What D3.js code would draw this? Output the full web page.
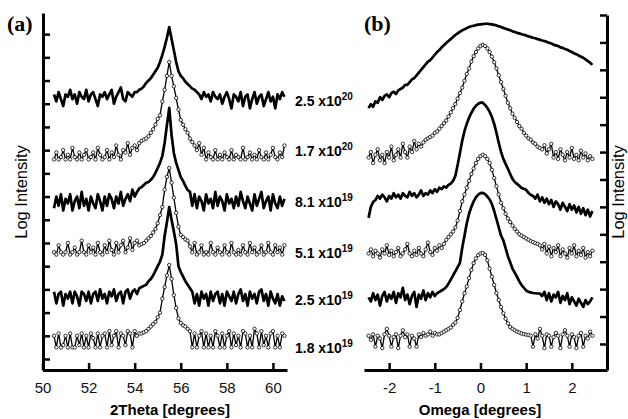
<html>
<head>
  <script src="https://d3js.org/d3.v7.min.js"></script>
  <style>
    body { margin: 0; background: #fff; }
    svg { display: block; }
  </style>
</head>
<body>
  <div id="chart"></div>
  <script>
    // 2Theta scan grid (degrees) and log intensity of each sample
    const xA = [50.5,50.6,50.7,50.8,50.9,51,51.1,51.2,51.3,51.4,51.5,51.6,51.7,51.8,51.9,52,52.1,52.2,52.3,52.4,52.5,52.6,52.7,52.8,52.9,53,53.1,53.2,53.3,53.4,53.5,53.6,53.7,53.8,53.9,54,54.1,54.2,54.3,54.4,54.5,54.6,54.7,54.8,54.9,55,55.1,55.2,55.3,55.4,55.5,55.6,55.7,55.8,55.9,56,56.1,56.2,56.3,56.4,56.5,56.6,56.7,56.8,56.9,57,57.1,57.2,57.3,57.4,57.5,57.6,57.7,57.8,57.9,58,58.1,58.2,58.3,58.4,58.5,58.6,58.7,58.8,58.9,59,59.1,59.2,59.3,59.4,59.5,59.6,59.7,59.8,59.9,60,60.1,60.2,60.3,60.4,60.5];

    const a1 = [11.4,11.1,11.5,11.2,10.9,11.4,11.3,11.6,11.2,11.4,11.0,11.5,11.3,11.2,11.6,11.1,11.4,11.5,11.2,10.9,11.4,11.3,11.5,11.2,11.4,11.6,11.0,11.3,11.5,11.7,11.2,11.1,11.5,11.4,11.3,11.5,
      11.5,11.6,11.65,11.75,11.9,12.0,12.1,12.25,12.4,12.55,12.8,13.1,13.45,13.85,14.3,13.8,13.3,12.8,12.4,12.2,12.1,11.95,11.85,11.75,11.65,11.6,
      11.5,11.4,11.2,11.5,11.3,11.4,11.1,11.5,11.3,11.2,11.4,11.0,11.3,11.5,11.2,10.8,11.4,11.3,11.1,11.5,10.9,11.3,11.4,10.8,11.2,11.5,11.0,11.3,11.4,10.9,11.2,11.5,11.1,11.3,10.8,11.4,11.2,11.5,11.3];
    const a2 = [8.6,8.9,8.6,8.7,9.0,8.6,8.8,8.6,9.1,8.7,8.6,8.9,8.6,8.8,9.0,8.6,8.7,8.9,8.6,9.1,8.8,8.6,8.7,9.0,8.6,8.9,8.7,9.2,8.8,8.6,9.0,8.9,9.3,8.8,9.1,9.2,9.0,9.3,
      9.4,9.45,9.5,9.6,9.75,9.9,10.1,10.35,10.5,11.1,11.6,12.2,12.8,12.2,11.75,11.25,10.75,10.3,10.1,9.9,9.75,9.5,9.35,9.2,
      9.0,9.3,8.8,9.1,8.6,8.9,8.7,8.6,9.0,8.6,8.8,8.6,8.9,8.7,8.6,9.0,8.6,8.8,8.7,8.6,9.1,8.6,8.7,8.9,8.6,8.8,8.6,9.0,8.7,8.6,8.9,8.6,8.8,9.1,8.7,8.6,8.9,8.7,9.2];
    const a3 = [6.5,7.0,6.6,7.1,6.4,6.9,6.7,7.1,6.4,6.8,7.0,6.5,7.2,6.6,6.9,6.4,7.0,6.7,6.5,7.1,6.8,6.4,7.0,6.6,7.1,6.9,6.5,7.0,6.7,7.2,6.6,6.9,7.1,6.8,7.3,7.0,7.2,7.35,
      7.41,7.5,7.59,7.63,7.72,7.84,8.02,8.23,8.45,8.75,9.31,10.09,10.82,9.66,8.88,8.45,8.15,7.84,7.67,7.46,7.28,7.2,
      6.6,7.1,6.5,7.0,6.8,6.4,7.1,6.7,6.9,6.5,7.2,6.6,7.0,6.8,6.4,7.1,6.7,6.9,6.5,7.0,6.6,7.2,6.8,6.5,7.0,6.7,6.4,7.1,6.6,6.9,7.2,6.5,6.8,7.0,6.4,7.1,6.7,6.5,7.0,6.6,6.9];
    const a4 = [4.6,4.5,4.9,4.6,4.5,4.6,5.0,4.5,4.6,4.8,4.5,4.6,5.1,4.6,4.5,4.9,4.6,4.8,4.5,5.0,4.6,4.5,4.9,4.6,5.1,4.7,4.5,5.0,4.6,4.9,5.1,4.6,4.8,5.2,4.7,5.0,5.1,4.9,
      4.95,5.0,5.1,5.2,5.3,5.45,5.6,5.85,6.2,6.55,7.3,7.85,8.23,7.6,6.95,6.3,5.7,5.35,5.25,5.15,5.1,4.85,
      4.6,5.0,4.5,4.6,4.9,4.5,4.6,4.5,5.0,4.6,4.5,4.8,4.6,4.5,4.9,4.6,4.5,5.0,4.6,4.5,4.7,4.5,4.9,4.6,4.5,5.0,4.6,4.8,4.5,4.6,4.9,4.5,4.6,5.0,4.6,4.5,4.9,4.6,4.8,4.5,4.9];
    const a5 = [2.9,2.4,2.8,2.9,2.3,2.8,2.6,2.9,2.4,2.9,2.7,2.3,2.9,2.8,2.5,2.9,2.4,2.8,2.9,2.5,3.0,2.6,2.8,2.4,2.9,2.7,3.0,2.5,2.8,2.9,2.4,2.9,3.0,2.6,2.9,3.0,2.8,3.05,
      3.1,3.15,3.2,3.35,3.45,3.6,3.8,4.0,4.2,4.5,5.3,5.9,6.55,6.0,5.5,4.95,4.0,3.75,3.55,3.35,3.2,3.05,
      2.9,2.4,2.8,2.3,2.9,2.6,2.8,2.3,2.9,2.5,2.8,2.9,2.4,2.8,2.3,2.9,2.7,2.5,2.9,2.4,2.8,3.0,2.5,2.8,2.3,2.9,2.6,2.8,2.4,2.9,3.0,2.5,2.8,2.3,2.9,2.6,2.4,2.8,2.3,2.7,2.5];
    const a6 = [1.0,0.5,1.1,0.5,0.6,1.0,0.5,1.1,0.5,0.5,1.0,0.6,1.1,0.5,1.0,0.5,1.1,0.9,0.5,1.1,0.5,1.0,1.1,0.5,1.2,0.6,1.0,1.2,0.5,1.1,1.0,0.6,1.2,1.1,0.5,1.2,1.0,1.1,
      1.1,1.15,1.2,1.3,1.4,1.5,1.6,1.8,2.0,2.6,3.1,3.6,4.05,3.45,2.75,2.2,1.75,1.55,1.45,1.4,1.3,1.2,
      0.5,1.1,0.5,1.0,1.2,0.5,1.1,0.5,1.0,0.5,1.2,1.0,0.5,1.1,0.5,1.0,1.2,0.5,1.1,0.6,1.0,0.5,1.2,1.1,0.5,1.0,0.5,1.3,1.1,0.5,1.2,0.6,1.0,0.5,1.1,1.2,0.5,1.0,0.5,1.1,1.0];

    // Omega scan grid (degrees) and log intensity of each sample
    const xB = [-2.45,-2.4,-2.35,-2.3,-2.25,-2.2,-2.15,-2.1,-2.05,-2,-1.95,-1.9,-1.85,-1.8,-1.75,-1.7,-1.65,-1.6,-1.55,-1.5,-1.45,-1.4,-1.35,-1.3,-1.25,-1.2,-1.15,-1.1,-1.05,-1,-0.95,-0.9,-0.85,-0.8,-0.75,-0.7,-0.65,-0.6,-0.55,-0.5,-0.45,-0.4,-0.35,-0.3,-0.25,-0.2,-0.15,-0.1,-0.05,0,0.05,0.1,0.15,0.2,0.25,0.3,0.35,0.4,0.45,0.5,0.55,0.6,0.65,0.7,0.75,0.8,0.85,0.9,0.95,1,1.05,1.1,1.15,1.2,1.25,1.3,1.35,1.4,1.45,1.5,1.55,1.6,1.65,1.7,1.75,1.8,1.85,1.9,1.95,2,2.05,2.1,2.15,2.2,2.25,2.3,2.35,2.4,2.45];

    const b1 = [8.6,8.75,8.65,8.85,8.8,9.0,8.9,9.05,9.1,9.0,9.15,9.2,9.12,9.25,9.3,9.35,9.45,9.45,9.55,9.65,9.7,9.8,9.9,10.0,10.1,10.2,10.3,10.35,10.45,10.55,
      10.65,10.72,10.82,10.9,10.98,11.05,11.12,11.2,11.27,11.33,11.39,11.44,11.48,11.52,11.56,11.59,11.61,11.63,11.65,11.66,11.67,11.68,11.68,11.67,11.66,11.64,11.62,11.59,11.56,11.53,
      11.5,11.47,11.44,11.41,11.38,11.35,11.33,11.3,11.28,11.25,11.22,11.2,11.17,11.15,11.12,11.1,11.07,11.05,11.02,10.99,10.96,10.92,10.89,10.87,10.82,10.8,10.76,10.73,10.69,10.65,
      10.6,10.57,10.52,10.48,10.44,10.38,10.32,10.26,10.18];
    const b2 = [6.8,7.0,6.6,6.9,7.1,6.7,6.9,6.6,7.0,6.8,7.2,6.7,6.9,7.1,6.8,7.3,7.0,6.8,7.2,7.0,7.4,7.1,7.3,7.2,7.35,
      7.45,7.5,7.55,7.6,7.7,7.75,7.85,7.95,8.05,8.15,8.3,8.45,8.6,8.75,8.95,9.15,9.35,9.6,9.85,10.05,10.3,10.5,10.65,10.78,10.87,10.91,
      10.87,10.78,10.65,10.48,10.28,10.05,9.8,9.55,9.3,9.05,8.8,8.6,8.4,8.25,8.1,7.95,7.85,7.7,7.6,7.5,7.45,7.35,7.3,7.2,7.15,
      7.1,7.25,6.95,7.1,7.3,6.8,7.0,6.75,7.1,6.9,6.7,7.0,6.8,7.15,6.75,6.9,6.7,7.05,6.8,6.95,6.7,6.85,6.75];
    const b3 = [4.6,5.0,5.18,
      5.25,5.4,5.3,5.45,5.35,5.2,5.4,5.3,5.5,5.35,5.45,5.3,5.5,5.4,5.35,5.55,5.4,5.5,5.35,5.45,5.6,5.4,5.5,5.45,5.6,5.5,5.65,5.55,5.7,5.65,5.75,5.7,5.8,5.85,
      5.95,6.13,6.53,6.97,7.41,7.77,8.03,8.25,8.43,8.58,8.69,8.76,8.8,8.8,8.72,8.61,8.47,8.28,8.03,7.7,7.34,7.01,6.75,6.57,6.39,6.2,6.02,5.91,5.84,5.77,5.69,5.66,5.62,5.51,5.44,5.4,
      5.3,5.45,5.2,5.35,5.15,5.3,5.1,5.25,5.0,5.2,5.1,4.9,5.15,5.0,4.85,5.1,4.9,5.05,4.8,5.0,4.75,4.95,4.7,4.9,4.65,4.85];
    const b4 = [3.3,3.45,3.2,3.4,3.3,3.15,3.45,3.3,3.6,3.25,3.4,3.2,3.35,3.5,3.2,3.3,3.45,3.65,3.3,3.2,3.4,3.25,3.5,3.3,3.2,3.45,3.7,3.35,3.25,3.5,3.4,3.6,3.5,3.65,
      3.8,3.9,4.0,4.1,4.25,4.5,4.85,5.2,5.45,5.7,5.95,6.2,6.4,6.6,6.75,6.85,6.9,6.85,6.75,6.6,6.35,6.05,5.75,5.45,5.15,4.95,4.75,4.58,4.45,4.32,4.2,4.1,4.0,3.95,3.9,3.85,3.8,3.75,3.72,3.68,3.65,3.6,
      3.45,3.65,3.3,3.55,3.2,3.5,3.35,3.6,3.2,3.45,3.3,3.15,3.5,3.3,3.6,3.2,3.4,3.25,3.5,3.15,3.35,3.2,3.4];
    const b5 = [1.7,1.55,1.85,1.6,1.8,1.4,1.75,1.9,1.55,1.8,1.65,1.9,1.5,1.85,1.7,2.05,1.6,1.8,1.45,1.75,1.9,1.35,1.8,1.65,1.95,1.6,1.85,1.7,1.9,1.75,1.85,
      1.9,1.95,2.0,2.08,2.2,2.35,2.5,2.65,2.8,2.96,3.5,3.95,4.4,4.75,5.0,5.2,5.35,5.45,5.5,5.51,5.47,5.38,5.27,5.1,4.85,4.55,4.25,3.95,3.78,3.5,
      3.2,2.98,2.75,2.6,2.45,2.28,2.15,2.05,1.95,1.9,1.88,1.86,1.85,1.84,1.84,
      1.75,1.9,1.6,1.85,1.55,1.8,1.7,1.9,1.5,1.75,1.6,1.85,1.45,1.7,1.55,1.4,1.65,1.5,1.35,1.6,1.45,1.55,1.7];
    const b6 = [0.3,0.15,0.35,-0.1,0.3,0.2,-0.15,0.35,0.55,0.3,-0.1,0.25,0.35,-0.15,0.3,0.5,0.25,0.35,-0.1,0.3,0.2,-0.1,0.35,0.25,0.4,0.3,0.35,0.45,0.3,0.4,0.35,
      0.35,0.4,0.45,0.5,0.55,0.6,0.7,0.78,0.95,1.24,1.55,1.85,2.1,2.4,2.7,2.95,3.12,3.24,3.3,3.32,3.25,3.05,2.75,2.45,2.15,1.86,1.6,1.35,1.12,0.92,0.75,0.62,0.55,0.5,0.45,0.42,0.38,0.36,0.34,0.33,
      0.3,-0.1,0.35,0.2,0.55,0.3,-0.15,0.35,0.3,-0.1,0.25,0.4,0.3,-0.15,0.35,0.5,0.3,-0.1,0.35,0.25,-0.15,0.3,0.4,-0.1,0.3,0.2,0.45,0.3];

    // carrier concentrations (cm^-3), top to bottom
    const concMant = ["2.5", "1.7", "8.1", "5.1", "2.5", "1.8"];
    const concExp = ["20", "20", "19", "19", "19", "19"];

    const xTicksA = [50, 52, 54, 56, 58, 60];
    const xTicksB = [-2, -1, 0, 1, 2];
    const yTicksA = [0, 1, 2, 3, 4, 5, 6, 7, 8, 9, 10, 11, 12, 13, 14];
    const yTicksB = [0, 1, 2, 3, 4, 5, 6, 7, 8, 9, 10, 11, 12];

    const font = "Arial, 'Liberation Sans', sans-serif";
    const w = 628, h = 419;

    const svg = d3.select("#chart").append("svg")
      .attr("width", w)
      .attr("height", h);

    const xa = d3.scaleLinear().domain([50, 60.61]).range([42.5, 287]);
    const ya = d3.scaleLinear().domain([-0.474, 14.91]).range([370, 13]);
    const xb = d3.scaleLinear().domain([-2.55, 2.77]).range([364, 607]);
    const yb = d3.scaleLinear().domain([-0.95, 12.0]).range([370, 15]);

    function drawTrace(xs, ys, xsc, ysc, open) {
      const pts = ys.map((v, i) => [xs[i], v]);
      const line = d3.line().x(d => xsc(d[0])).y(d => ysc(d[1]));
      svg.append("path")
        .datum(pts)
        .attr("d", line)
        .attr("fill", "none")
        .attr("stroke", "#000")
        .attr("stroke-width", open ? 1.3 : 2.7)
        .attr("stroke-linejoin", "round");
      if (open) {
        svg.append("g").selectAll("circle")
          .data(pts)
          .enter()
          .append("circle")
          .attr("cx", d => xsc(d[0]))
          .attr("cy", d => ysc(d[1]))
          .attr("r", 1.7)
          .attr("fill", "#fff")
          .attr("stroke", "#000")
          .attr("stroke-width", 0.8);
      }
    }

    [a1, a2, a3, a4, a5, a6].forEach((s, i) => drawTrace(xA, s, xa, ya, i % 2 == 1));
    [b1, b2, b3, b4, b5, b6].forEach((s, i) => drawTrace(xB, s, xb, yb, i % 2 == 1));

    // axes
    function styleAxis(g) {
      g.attr("font-family", font).attr("font-size", 15);
      g.select(".domain").attr("stroke-width", 3);
      g.selectAll(".tick line").attr("stroke-width", 2.5);
      g.selectAll(".tick text").attr("fill", "#111");
    }

    svg.append("g")
      .attr("transform", "translate(43,0)")
      .call(d3.axisLeft(ya).tickValues(yTicksA).tickSizeInner(-7).tickSizeOuter(0).tickFormat(""))
      .call(styleAxis);

    svg.append("g")
      .attr("transform", "translate(0,370)")
      .call(d3.axisBottom(xa).tickValues(xTicksA).tickSizeInner(-7).tickSizeOuter(0).tickPadding(12).tickFormat(d => String(d)))
      .call(styleAxis);

    svg.append("g")
      .attr("transform", "translate(607,0)")
      .call(d3.axisRight(yb).tickValues(yTicksB).tickSizeInner(-7).tickSizeOuter(0).tickFormat(""))
      .call(styleAxis);

    svg.append("g")
      .attr("transform", "translate(0,370)")
      .call(d3.axisBottom(xb).tickValues(xTicksB).tickSizeInner(-7).tickSizeOuter(0).tickPadding(12).tickFormat(d => String(d)))
      .call(styleAxis);

    // axis titles
    svg.append("text")
      .attr("x", 170).attr("y", 415)
      .attr("text-anchor", "middle")
      .attr("font-family", font).attr("font-size", 15).attr("font-weight", "bold")
      .text("2Theta [degrees]");

    svg.append("text")
      .attr("x", 480).attr("y", 415)
      .attr("text-anchor", "middle")
      .attr("font-family", font).attr("font-size", 15).attr("font-weight", "bold")
      .text("Omega [degrees]");

    svg.append("text")
      .attr("transform", "translate(27,192) rotate(-90)")
      .attr("text-anchor", "middle")
      .attr("font-family", font).attr("font-size", 16.5)
      .text("Log Intensity");

    svg.append("text")
      .attr("transform", "translate(624,192) rotate(-90)")
      .attr("text-anchor", "middle")
      .attr("font-family", font).attr("font-size", 16.5)
      .text("Log Intensity");

    // panel letters
    svg.append("text")
      .attr("x", 7).attr("y", 31)
      .attr("font-family", "'Liberation Serif', 'Times New Roman', serif")
      .attr("font-size", 22).attr("font-weight", "bold")
      .text("(a)");

    svg.append("text")
      .attr("x", 364).attr("y", 31)
      .attr("font-family", "'Liberation Serif', 'Times New Roman', serif")
      .attr("font-size", 22).attr("font-weight", "bold")
      .text("(b)");

    // concentration labels between the panels
    const labelY = [106, 156, 207, 258, 305, 353];
    concMant.forEach((m, i) => {
      const t = svg.append("text")
        .attr("x", 295).attr("y", labelY[i])
        .attr("font-family", font).attr("font-size", 14).attr("font-weight", "bold");
      t.append("tspan").text(m + " x10");
      t.append("tspan").attr("dy", -6).attr("font-size", 10).text(concExp[i]);
    });
  </script>
</body>
</html>
